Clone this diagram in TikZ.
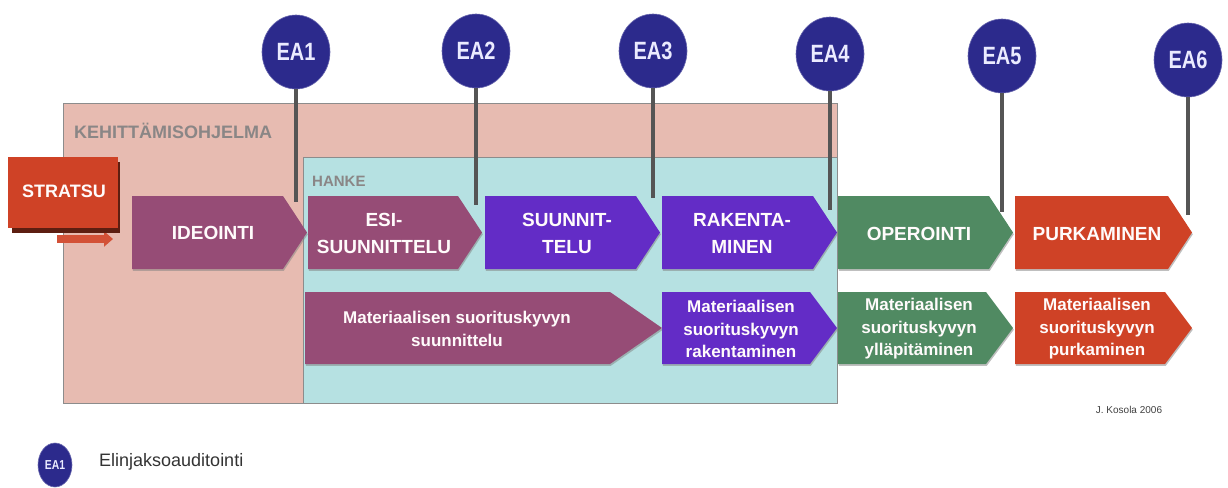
\documentclass[tikz,border=0pt]{standalone}
\usepackage{fontspec}
\setmainfont{Liberation Sans}
\newfontfamily\eafont[FakeStretch=0.8]{Liberation Sans}
\usetikzlibrary{arrows.meta, shapes.geometric, shadows}
\definecolor{pinkBg}{RGB}{231,187,177}
\definecolor{cyanBg}{RGB}{182,225,226}
\definecolor{phMauve}{RGB}{150,76,118}
\definecolor{phViolet}{RGB}{99,44,198}
\definecolor{phGreen}{RGB}{80,138,98}
\definecolor{phRed}{RGB}{207,66,38}
\definecolor{eaBlue}{RGB}{44,42,140}
\definecolor{pinGray}{RGB}{85,85,85}
\definecolor{labelGray}{RGB}{138,134,134}
\tikzset{
  boxline/.style={draw=black!45, line width=0.8pt},
  boxlabel/.style={font=\bfseries\fontsize{18}{20}\selectfont, text=labelGray, anchor=west, inner sep=0pt},
  phasefill/.style={fill=#1, drop shadow={shadow xshift=0.8pt, shadow yshift=-1.8pt, opacity=0.5}},
  phase/.style={font=\bfseries\fontsize{19}{27}\selectfont, text=white!94!pink, align=center, inner sep=0pt},
  matext/.style={font=\bfseries\fontsize{17}{22.5}\selectfont, text=white!94!pink, align=center, inner sep=0pt},
  eaball/.style={ellipse, fill=eaBlue, draw=eaBlue!70!white, line width=0.6pt, minimum width=68pt,
    minimum height=74pt, inner sep=0pt, text=white!92!blue, font=\eafont\bfseries\fontsize{25}{27}\selectfont},
  pinline/.style={pinGray, line width=4pt}
}
\begin{document}
\begin{tikzpicture}[x=1pt, y=-1pt]
  \useasboundingbox (0,0) rectangle (1228,487);
  % KEHITTAMISOHJELMA and HANKE areas
  \draw[boxline, fill=pinkBg] (63,103) rectangle (837,403);
  \draw[boxline, fill=cyanBg] (303,157) rectangle (837,403);
  \node[boxlabel] (ohjelma) at (74,131) {KEHITTÄMISOHJELMA};
  \node[boxlabel, font=\bfseries\fontsize{15}{17}\selectfont] (hanke) at (312,181) {HANKE};
  % STRATSU with its small arrow
  \coordinate (strFrom) at (57,239);
  \coordinate (strTo) at (113,239);
  \draw[line width=8pt, phRed!92!white, -{Triangle[length=9pt, width=15pt]}] (strFrom) -- (strTo);
  \fill[phRed!45!black] (12,162) rectangle (120,233);
  \fill[phRed] (8,157) rectangle (118,228);
  \node[phase, font=\bfseries\fontsize{18}{20}\selectfont] (stratsu) at (64,191) {STRATSU};
  % EA pins: name/x/circle y/pin end y
  \foreach \n/\x/\y/\b in {1/296/52/202, 2/476/51/205, 3/653/51/198, 4/830/54/210, 5/1002/56/212, 6/1188/60/215} {
    \coordinate (pin\n) at (\x,\b);
    \node[eaball] (ea\n) at (\x,\y) {EA\n};
    \draw[pinline] (ea\n) -- (pin\n);
  }
  % row 1: phases (y 196 -> 269, tip depth 24)
  % IDEOINTI
  \fill[phasefill=phMauve] (132,196) -- (283,196) -- (307,232.5) -- (283,269) -- (132,269) -- cycle;
  \node[phase] (ideointi) at (213,233) {IDEOINTI};
  % ESI-SUUNNITTELU
  \fill[phasefill=phMauve] (308,196) -- (458,196) -- (482,232.5) -- (458,269) -- (308,269) -- cycle;
  \node[phase] (esisuun) at (384,233) {ESI-\\SUUNNITTELU};
  % SUUNNITTELU
  \fill[phasefill=phViolet] (485,196) -- (636,196) -- (660,232.5) -- (636,269) -- (485,269) -- cycle;
  \node[phase] (suun) at (567,233) {SUUNNIT-\\TELU};
  % RAKENTAMINEN
  \fill[phasefill=phViolet] (662,196) -- (813,196) -- (837,232.5) -- (813,269) -- (662,269) -- cycle;
  \node[phase] (raken) at (742,233) {RAKENTA-\\MINEN};
  % OPEROINTI
  \fill[phasefill=phGreen] (838,196) -- (989,196) -- (1013,232.5) -- (989,269) -- (838,269) -- cycle;
  \node[phase] (operointi) at (919,234) {OPEROINTI};
  % PURKAMINEN
  \fill[phasefill=phRed] (1015,196) -- (1168,196) -- (1192,232.5) -- (1168,269) -- (1015,269) -- cycle;
  \node[phase] (purku) at (1097,234) {PURKAMINEN};
  % row 2: materiaalinen suorituskyky (y 292 -> 364)
  \fill[phasefill=phMauve] (305,292) -- (610,292) -- (662,328) -- (610,364) -- (305,364) -- cycle;
  \node[matext] (msuun) at (457,329) {Materiaalisen suorituskyvyn\\suunnittelu};
  \fill[phasefill=phViolet] (662,292) -- (810,292) -- (837,328) -- (810,364) -- (662,364) -- cycle;
  \node[matext] (mraken) at (741,329) {Materiaalisen\\suorituskyvyn\\rakentaminen};
  \fill[phasefill=phGreen] (838,292) -- (986,292) -- (1013,328) -- (986,364) -- (838,364) -- cycle;
  \node[matext] (myllapito) at (919,329) {Materiaalisen\\suorituskyvyn\\ylläpitäminen};
  \fill[phasefill=phRed] (1015,292) -- (1165,292) -- (1192,328) -- (1165,364) -- (1015,364) -- cycle;
  \node[matext] (mpurku) at (1097,329) {Materiaalisen\\suorituskyvyn\\purkaminen};
  % legend and author
  \node[eaball, minimum width=34pt, minimum height=44pt, font=\eafont\bfseries\fontsize{13}{14}\selectfont] (legendEa) at (55,465) {EA1};
  \node[anchor=west, inner sep=0pt, text=black!80, font=\fontsize{18}{20}\selectfont] (legendTxt) at (99,462) {Elinjaksoauditointi};
  \node[inner sep=0pt, text=black!75, font=\fontsize{10}{12}\selectfont] (author) at (1129,410) {J. Kosola 2006};
\end{tikzpicture}
\end{document}
